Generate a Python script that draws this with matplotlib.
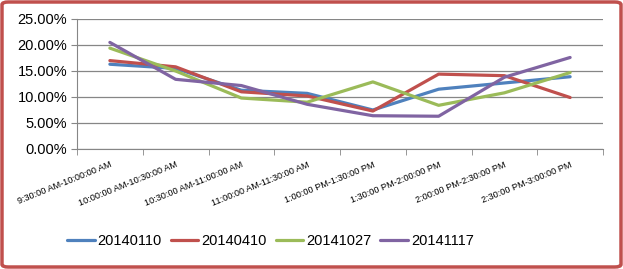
import matplotlib
matplotlib.use("Agg")
import matplotlib.pyplot as plt
from matplotlib.patches import FancyBboxPatch
from matplotlib.ticker import PercentFormatter

plt.rcParams['font.family'] = ['Liberation Sans Narrow', 'Liberation Sans', 'DejaVu Sans']

# DATA (percent)
slots = ["9:30:00 AM-10:00:00 AM", "10:00:00 AM-10:30:00 AM", "10:30:00 AM-11:00:00 AM",
         "11:00:00 AM-11:30:00 AM", "1:00:00 PM-1:30:00 PM", "1:30:00 PM-2:00:00 PM",
         "2:00:00 PM-2:30:00 PM", "2:30:00 PM-3:00:00 PM"]
s_20140110 = [16.3, 15.5, 11.3, 10.7, 7.5, 11.5, 12.7, 13.9]
s_20140410 = [17.0, 15.8, 11.0, 10.2, 7.3, 14.4, 14.1, 9.9]
s_20141027 = [19.4, 15.0, 9.8, 9.0, 12.9, 8.4, 10.8, 14.7]
s_20141117 = [20.5, 13.4, 12.2, 8.6, 6.4, 6.3, 13.8, 17.6]

series = [("20140110", s_20140110, "#4F81BD"),
          ("20140410", s_20140410, "#C0504D"),
          ("20141027", s_20141027, "#9BBB59"),
          ("20141117", s_20141117, "#8064A2")]

W, H = 623, 269
fig = plt.figure(figsize=(W / 100, H / 100), dpi=100)
ax = fig.add_axes([77 / W, 120 / H, 526 / W, 130 / H])

x = range(len(slots))
for name, vals, col in series:
    ax.plot(x, vals, color=col, lw=2.3, label=name, solid_capstyle='round')

ax.set_xlim(-0.5, len(slots) - 0.5)
ax.set_ylim(0, 25)
ax.set_yticks([0, 5, 10, 15, 20, 25])
ax.yaxis.set_major_formatter(PercentFormatter(decimals=2))
ax.grid(axis='y', color='#868686', lw=0.9)
ax.set_axisbelow(True)
for sp in ['top', 'right']:
    ax.spines[sp].set_visible(False)
for sp in ['left', 'bottom']:
    ax.spines[sp].set_color('#868686')
ax.tick_params(axis='y', length=4, direction='out', color='#868686', labelsize=10.5, pad=3)
ax.set_xticks([i - 0.5 for i in range(len(slots) + 1)], minor=True)
ax.set_xticks(list(x))
ax.set_xticklabels(slots, rotation=22, ha='right', rotation_mode='anchor', fontsize=6.6)
ax.tick_params(axis='x', which='major', length=0, pad=8)
ax.tick_params(axis='x', which='minor', length=4, color='#868686')

fig.legend(loc='center left', bbox_to_anchor=(54 / W, 28 / H), ncol=4, frameon=False,
           fontsize=10.5, handlelength=1.9, handletextpad=0.2, columnspacing=0.6)

border = FancyBboxPatch((2 / W, 2 / H), 1 - 4 / W, 1 - 4 / H,
                        boxstyle="round,pad=0,rounding_size=0.01",
                        transform=fig.transFigure, fill=False,
                        edgecolor='#C0504D', lw=2.5)
fig.patches.append(border)

fig.savefig("out.png", dpi=100)
